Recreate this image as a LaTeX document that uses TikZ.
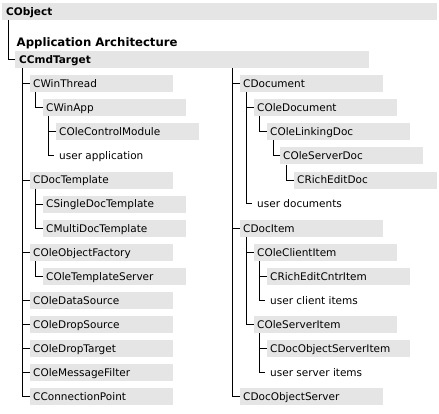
\documentclass[tikz,border=0pt]{standalone}
\usepackage{fontspec}
\setmainfont{DejaVu Sans}
\definecolor{barfill}{RGB}{229,229,229}
\tikzset{
  bar/.style={fill=barfill, anchor=north west, minimum height=17pt,
    text width=136.5pt, inner xsep=3pt, inner ysep=0pt, align=left,
    text height=7.6pt, text depth=0pt, font=\fontsize{10.5}{12}\selectfont},
  headbar/.style={bar, inner xsep=4pt, font=\fontsize{10.5}{12}\selectfont\bfseries},
  plaintext/.style={anchor=west, inner xsep=5pt, inner ysep=0pt,
    text height=7.6pt, text depth=0pt, font=\fontsize{10.5}{12}\selectfont},
  conn/.style={draw=black, line width=1pt}
}
\begin{document}
\begin{tikzpicture}[x=1pt,y=-1pt]
\useasboundingbox (0,0) rectangle (439,413);
% headers
\node[headbar, text width=427pt] (cobject) at (2,3) {CObject};
\node[anchor=base west, inner sep=0pt, font=\fontsize{11.7}{14}\selectfont\bfseries] (arch) at (16.5,46) {Application Architecture};
\node[headbar, text width=346pt] (cmd) at (15,51) {CCmdTarget};
\draw[conn] ([xshift=6pt]cobject.south west) |- (cmd.west);

% left column
\node[bar] (winthread) at (30,75) {CWinThread};
\node[bar] (winapp) at (43,99) {CWinApp};
\node[bar] (olecm) at (56,123) {COleControlModule};
\node[plaintext] (userapp) at (54,155.7) {user application};
\node[bar] (doctempl) at (30,171.3) {CDocTemplate};
\node[bar] (single) at (43,195.4) {CSingleDocTemplate};
\node[bar] (multi) at (43,219.5) {CMultiDocTemplate};
\node[bar] (objfact) at (30,243.6) {COleObjectFactory};
\node[bar] (templsrv) at (43,267.6) {COleTemplateServer};
\node[bar] (datasrc) at (30,291.7) {COleDataSource};
\node[bar] (dropsrc) at (30,315.8) {COleDropSource};
\node[bar] (droptgt) at (30,339.9) {COleDropTarget};
\node[bar] (msgfilt) at (30,364) {COleMessageFilter};
\node[bar] (connpt) at (30,388) {CConnectionPoint};

% right column
\node[bar] (document) at (240,75) {CDocument};
\node[bar] (oledoc) at (254,99) {COleDocument};
\node[bar] (linkdoc) at (267,123) {COleLinkingDoc};
\node[bar] (srvdoc) at (280,147.2) {COleServerDoc};
\node[bar] (richdoc) at (294,171.3) {CRichEditDoc};
\node[plaintext] (userdocs) at (252,203.9) {user documents};
\node[bar] (docitem) at (240,219.5) {CDocItem};
\node[bar] (clientitem) at (254,243.6) {COleClientItem};
\node[bar] (richitem) at (267,267.6) {CRichEditCntrItem};
\node[plaintext] (userclient) at (265,300.2) {user client items};
\node[bar] (srvitem) at (254,315.8) {COleServerItem};
\node[bar] (docobjsrvitem) at (267,339.9) {CDocObjectServerItem};
\node[plaintext] (usersrv) at (265,372.5) {user server items};
\node[bar] (docobjsrv) at (240,388) {CDocObjectServer};

% connectors, left column
\foreach \c in {winthread,doctempl,objfact,datasrc,dropsrc,droptgt,msgfilt,connpt}
  \draw[conn] ([xshift=7pt]cmd.south west) |- (\c.west);
\draw[conn] ([xshift=5.5pt]winthread.south west) |- (winapp.west);
\foreach \c in {olecm,userapp}
  \draw[conn] ([xshift=5.5pt]winapp.south west) |- (\c.west);
\foreach \c in {single,multi}
  \draw[conn] ([xshift=5.5pt]doctempl.south west) |- (\c.west);
\draw[conn] ([xshift=5.5pt]objfact.south west) |- (templsrv.west);

% connectors, right column
\foreach \c in {document,docitem,docobjsrv}
  \draw[conn] ([xshift=-8pt]document.west |- cmd.south) |- (\c.west);
\foreach \c in {oledoc,userdocs}
  \draw[conn] ([xshift=6pt]document.south west) |- (\c.west);
\draw[conn] ([xshift=5.5pt]oledoc.south west) |- (linkdoc.west);
\draw[conn] ([xshift=6pt]linkdoc.south west) |- (srvdoc.west);
\draw[conn] ([xshift=6.5pt]srvdoc.south west) |- (richdoc.west);
\foreach \c in {clientitem,srvitem}
  \draw[conn] ([xshift=6pt]docitem.south west) |- (\c.west);
\foreach \c in {richitem,userclient}
  \draw[conn] ([xshift=5.5pt]clientitem.south west) |- (\c.west);
\foreach \c in {docobjsrvitem,usersrv}
  \draw[conn] ([xshift=5.5pt]srvitem.south west) |- (\c.west);
\end{tikzpicture}
\end{document}
